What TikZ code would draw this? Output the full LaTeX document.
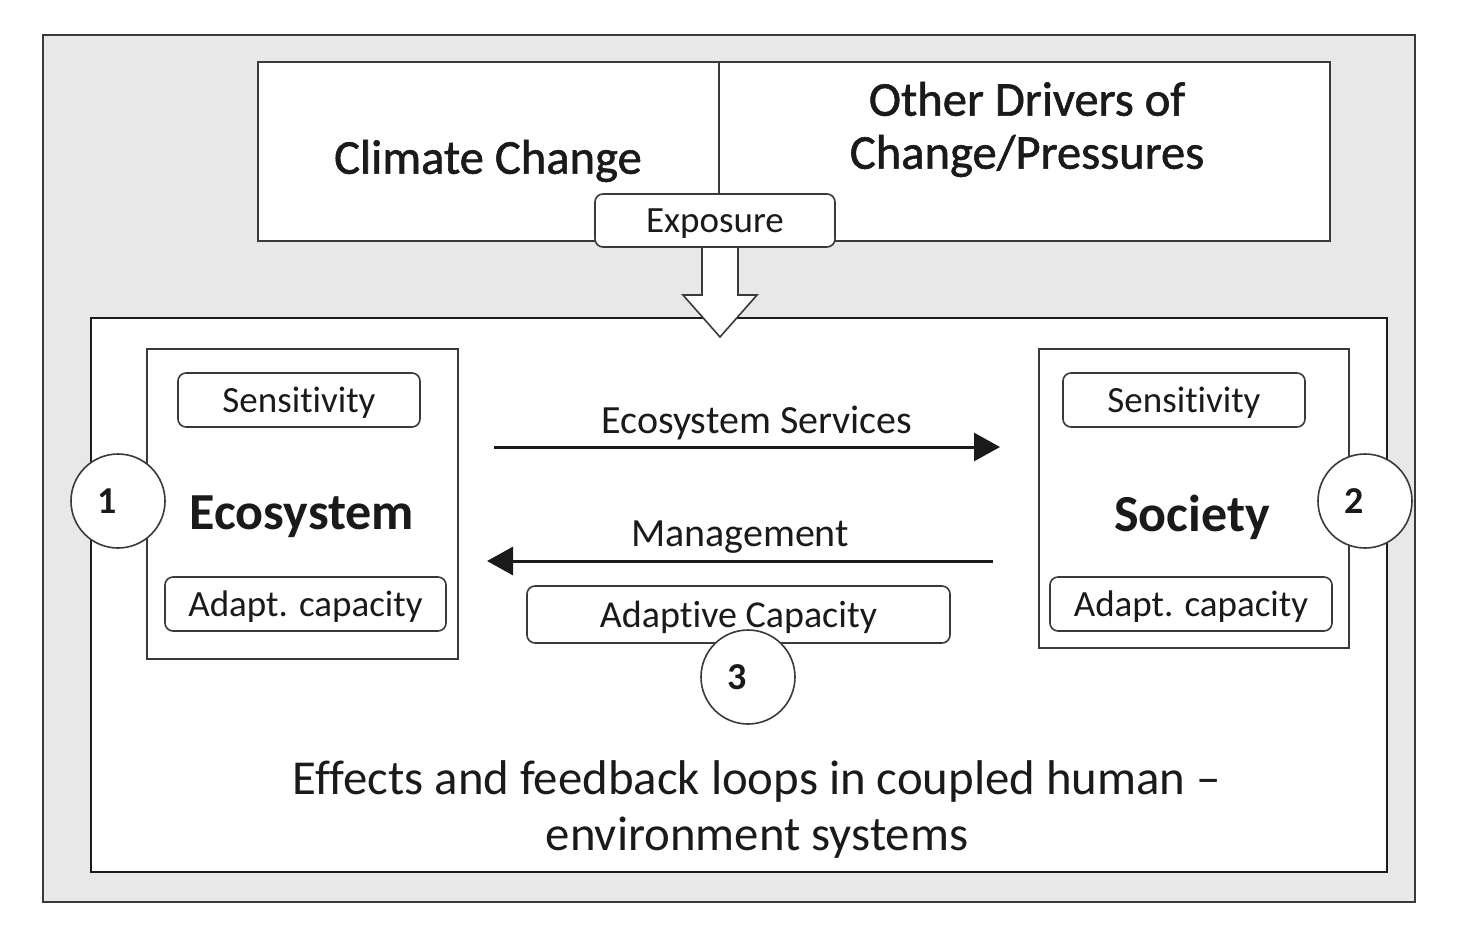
\documentclass[tikz,border=0pt]{standalone}
\usepackage{fontspec}
\setmainfont{Carlito}[Ligatures=NoCommon]
\newfontfamily\semib{Carlito}[Ligatures=NoCommon,FakeBold=1.2]
\usetikzlibrary{arrows.meta}
\definecolor{bggray}{HTML}{E8E8E8}
\definecolor{edge}{HTML}{3A3A3A}
\definecolor{txt}{HTML}{1A1A1A}
\begin{document}
\begin{tikzpicture}[x=0.5pt,y=-0.5pt,
  box/.style={draw=edge,line width=0.8pt,fill=white,inner sep=0pt,text=txt},
  rbox/.style={draw=edge,line width=0.8pt,fill=white,rounded corners=4pt,inner sep=0pt,text=txt,text depth=0pt,font=\fontsize{18.5}{20}\selectfont},
  num/.style={circle,draw=edge,line width=0.8pt,fill=white,minimum size=47pt,inner sep=0pt},
  numtxt/.style={font=\bfseries\fontsize{19}{20}\selectfont,text=txt,inner sep=0pt,xshift=-5.5pt},
  flow/.style={line width=1.5pt,draw=txt,-{Triangle[length=13pt,width=14pt]}},
  lbl/.style={text=txt,font=\fontsize{20}{22}\selectfont,inner sep=0pt},
  head/.style={text=txt,font=\semib\fontsize{24.3}{26}\selectfont,inner sep=0pt}
]
\useasboundingbox (0,0) rectangle (1458,939);
% outer
\node[draw=edge,line width=1pt,fill=bggray,minimum width=686pt,minimum height=433.5pt,inner sep=0pt] (outer) at (729,468.5) {};
% top boxes
\node[box,minimum width=230.5pt,minimum height=89.5pt] (cc) at (488.5,151.5) {};
\node[box,minimum width=305.5pt,minimum height=89.5pt] (od) at (1024.5,151.5) {};
\node[head] (cctext) at (488,161) {Climate Change};
\node[head] (odtext1) at (1027,99) {Other Drivers of};
\node[head] (odtext2) at (1027,156) {Change/Pressures};
% inner box
\node[draw=txt,line width=1pt,fill=white,minimum width=648pt,minimum height=277pt,inner sep=0pt] (inner) at (739,595) {};
% exposure arrow
\draw[draw=edge,line width=0.8pt,fill=white,line join=miter] (702,240)--(702,295)--(683,295)--(720,337)--(757,295)--(738,295)--(738,240);
\node[rbox,minimum width=120pt,minimum height=26.5pt] (exp) at (715,220.5) {Exposure};
% ecosystem
\node[box,minimum width=155.5pt,minimum height=155pt] (eco) at (302.5,504) {};
\node[rbox,minimum width=121pt,minimum height=27pt] (sens1) at (299,400) {Sensitivity};
\node[rbox,minimum width=140.5pt,minimum height=27pt] (ad1) at (305.5,604) {Adapt. capacity};
\node[text=txt,font=\bfseries\fontsize{26}{28}\selectfont,inner sep=0pt] (ecot) at (302,517) {Ecosystem};
\node[num,label={[numtxt]center:1}] (n1) at (118,501) {};
% society
\node[box,minimum width=155pt,minimum height=149.5pt] (soc) at (1194,498.5) {};
\node[rbox,minimum width=121pt,minimum height=27pt] (sens2) at (1184,400) {Sensitivity};
\node[rbox,minimum width=141pt,minimum height=27pt] (ad2) at (1191,604) {Adapt. capacity};
\node[text=txt,font=\bfseries\fontsize{26}{28}\selectfont,inner sep=0pt] (soct) at (1192,517) {Society};
\node[num,label={[numtxt]center:2}] (n2) at (1365,501) {};
% arrows
\coordinate (es1) at (494,447);
\coordinate (es2) at (1000,447);
\coordinate (m1) at (993,561);
\coordinate (m2) at (487,561);
\draw[flow] (es1) -- (es2);
\draw[flow] (m1) -- (m2);
\node[lbl] (est) at (757,423) {Ecosystem Services};
\node[lbl] (mt) at (740,537) {Management};
\node[rbox,minimum width=211.5pt,minimum height=28.5pt,font=\fontsize{19}{20}\selectfont] (adc) at (738.5,614.5) {Adaptive Capacity};
\node[num,label={[numtxt]center:3}] (n3) at (748,677) {};
% caption
\node[text=txt,font=\fontsize{24.4}{28}\selectfont,align=center,inner sep=0pt] (cap) at (757,809) {Effects and feedback loops in coupled human –\\environment systems};
\end{tikzpicture}
\end{document}
